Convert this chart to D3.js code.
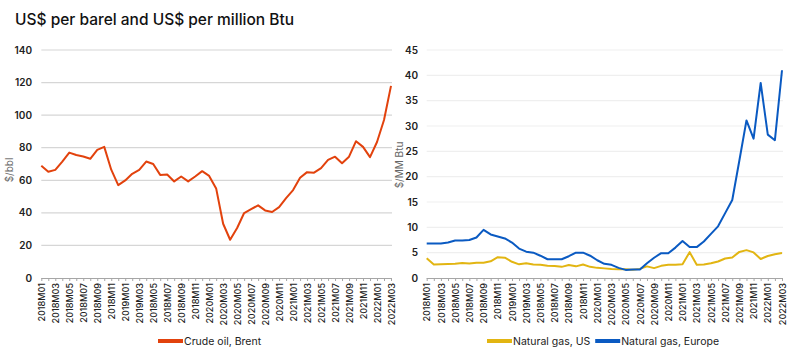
<!DOCTYPE html>
<html>
<head>
<meta charset="utf-8">
<script src="https://cdn.jsdelivr.net/npm/d3@7"></script>
<style>
  body { margin: 0; background: #fff; }
  svg { font-family: Inter, "Noto Sans", sans-serif; }
  .axis path, .axis line { stroke: #a6a6a6; }
</style>
</head>
<body>
<svg id="chart" width="800" height="351"></svg>
<script>
// monthly categories 2018M01 .. 2022M03
const months = [
  "2018M01","2018M02","2018M03","2018M04","2018M05","2018M06","2018M07","2018M08","2018M09","2018M10","2018M11","2018M12",
  "2019M01","2019M02","2019M03","2019M04","2019M05","2019M06","2019M07","2019M08","2019M09","2019M10","2019M11","2019M12",
  "2020M01","2020M02","2020M03","2020M04","2020M05","2020M06","2020M07","2020M08","2020M09","2020M10","2020M11","2020M12",
  "2021M01","2021M02","2021M03","2021M04","2021M05","2021M06","2021M07","2021M08","2021M09","2021M10","2021M11","2021M12",
  "2022M01","2022M02","2022M03"
];
// labels printed under every second month (as in the source, incl. its 2018 repeats)
const tickLabels = [
  "2018M01","2018M03","2018M05","2018M07","2018M09","2018M11",
  "2019M01","2019M03","2018M05","2018M07","2018M09","2018M11",
  "2020M01","2020M03","2020M05","2020M07","2020M09","2020M11",
  "2021M01","2021M03","2021M05","2021M07","2021M09","2021M11",
  "2022M01","2022M03"
];

const brent = [
  68.9, 65.2, 66.4, 71.5, 77.0, 75.5, 74.6, 73.2, 78.7, 80.5, 66.5, 57.0,
  59.9, 64.0, 66.4, 71.5, 70.0, 63.3, 63.5, 59.3, 62.3, 59.3, 62.3, 65.6,
  62.7, 55.0, 33.3, 23.5, 30.7, 39.9, 42.3, 44.6, 41.5, 40.5, 43.5, 49.0,
  54.0, 61.5, 65.0, 64.7, 67.5, 72.5, 74.5, 70.5, 74.5, 84.0, 80.5, 74.2,
  83.5, 97.0, 118.0
];
const gasUS = [
  3.9, 2.65, 2.7, 2.75, 2.8, 2.95, 2.85, 3.0, 3.0, 3.3, 4.1, 4.0,
  3.2, 2.7, 2.9, 2.65, 2.6, 2.4, 2.35, 2.2, 2.55, 2.3, 2.65, 2.2,
  2.0, 1.9, 1.8, 1.75, 1.75, 1.65, 1.8, 2.3, 1.95, 2.4, 2.6, 2.6,
  2.7, 5.1, 2.6, 2.65, 2.9, 3.25, 3.85, 4.05, 5.15, 5.5, 5.05, 3.75,
  4.35, 4.7, 4.95
];
const gasEurope = [
  6.8, 6.8, 6.8, 7.0, 7.4, 7.4, 7.5, 8.0, 9.5, 8.6, 8.2, 7.8,
  7.0, 5.8, 5.2, 5.0, 4.4, 3.7, 3.7, 3.7, 4.3, 5.0, 5.0, 4.4,
  3.5, 2.8, 2.6, 2.0, 1.6, 1.7, 1.7, 2.9, 4.0, 4.9, 4.9, 6.0,
  7.3, 6.1, 6.1, 7.2, 8.7, 10.2, 12.8, 15.4, 23.2, 31.1, 27.5, 38.5,
  28.3, 27.2, 41.0
];

const C_BRENT = "#e2420d", C_US = "#e2b512", C_EU = "#0a5ac2";

const svg = d3.select("#chart");
const plotTop = 50, plotBottom = 278;

svg.append("text").attr("x", 15).attr("y", 25)
  .attr("font-size", 15.5).attr("font-weight", 500).attr("fill", "#111")
  .text("US$ per barel and US$ per million Btu");

function panel(o) {
  const x = d3.scalePoint().domain(months).range([o.x0, o.x1]);
  const y = d3.scaleLinear().domain([0, o.max]).range([plotBottom, plotTop]);
  const g = svg.append("g");

  g.append("g").selectAll("line").data(o.ticks.filter(d => d > 0)).join("line")
    .attr("x1", o.x0).attr("x2", o.x1 + 1)
    .attr("y1", d => y(d)).attr("y2", d => y(d))
    .attr("stroke", o.grid).attr("stroke-width", 1.2);

  g.append("g").selectAll("text").data(o.ticks).join("text")
    .attr("x", o.labelX).attr("y", d => y(d)).attr("dy", "0.35em")
    .attr("text-anchor", "end").attr("font-size", 10).attr("font-weight", 600).attr("fill", "#222")
    .text(d => d);

  g.append("text")
    .attr("transform", `translate(${o.titleX},${o.titleY}) rotate(-90)`)
    .attr("text-anchor", "middle").attr("font-size", 10).attr("fill", "#666")
    .text(o.title);

  const ax = g.append("g").attr("class", "axis").attr("transform", `translate(0,${plotBottom})`)
    .call(d3.axisBottom(x).tickSize(3).tickSizeOuter(0)
      .tickFormat((d, i) => i % 2 === 0 ? tickLabels[i / 2] : ""));
  ax.select(".domain").attr("d", `M${o.x0},0.5H${o.x1}`);
  ax.selectAll("text")
    .attr("transform", "rotate(-90)").attr("text-anchor", "end")
    .attr("x", -5).attr("y", 0).attr("dy", "0.35em")
    .attr("font-size", 9).attr("font-weight", 500).attr("fill", "#222")
    .attr("font-family", "Inter, 'Noto Sans', sans-serif");

  const line = d3.line().x((d, i) => x(months[i])).y(d => y(d));
  o.series.forEach(s => {
    g.append("path").datum(s.values).attr("fill", "none")
      .attr("stroke", s.color).attr("stroke-width", 2).attr("stroke-linejoin", "round")
      .attr("d", line);
  });

  // legend
  let lx = o.legendX;
  o.series.forEach(s => {
    g.append("line").attr("x1", lx).attr("x2", lx + 25).attr("y1", 341).attr("y2", 341)
      .attr("stroke", s.color).attr("stroke-width", 4);
    const t = g.append("text").attr("x", lx + 26).attr("y", 341).attr("dy", "0.35em")
      .attr("font-size", 10.5).attr("fill", "#222").text(s.name);
    lx += 26 + t.node().getComputedTextLength() + 5;
  });
}

panel({
  x0: 41.3, x1: 391, max: 140, ticks: d3.range(0, 141, 20), grid: "#d6d6d6",
  labelX: 32, title: "$/bbl", titleX: 13, titleY: 170, legendX: 158,
  series: [{ name: "Crude oil, Brent", values: brent, color: C_BRENT }]
});
panel({
  x0: 426.7, x1: 782, max: 45, ticks: d3.range(0, 46, 5), grid: "#efefef",
  labelX: 418, title: "$/MM Btu", titleX: 403, titleY: 165, legendX: 487,
  series: [
    { name: "Natural gas, US", values: gasUS, color: C_US },
    { name: "Natural gas, Europe", values: gasEurope, color: C_EU }
  ]
});
</script>
</body>
</html>
